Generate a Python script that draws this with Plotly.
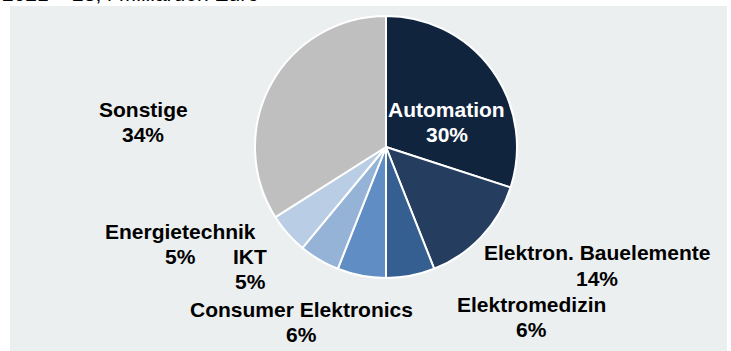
import plotly.graph_objects as go

W, H = 731, 351

categories = ["Automation", "Elektron. Bauelemente", "Elektromedizin",
              "Consumer Elektronics", "IKT", "Energietechnik", "Sonstige"]
shares = [30, 14, 6, 6, 5, 5, 34]
colors = ["#10243E", "#253E5F", "#345F90", "#5F8DC4", "#95B3D7", "#B9CDE5", "#BFBFBF"]
title_text = "2021 – 23,4 Milliarden Euro"

# label positions (pixels): x centre, y centre of first line
label_pos = [(447, 109), (597, 253), (531, 304), (301, 309), (250, 256), (180, 231), (143, 109)]
label_colors = ["white", "black", "black", "black", "black", "black", "black"]
line_gap = 25

cx, cy, r = 386, 147, 131
FONT = "Liberation Sans, Arial"
FS = 21

fig = go.Figure()
fig.add_trace(go.Pie(
    labels=categories, values=shares, sort=False, direction="clockwise", rotation=0,
    marker=dict(colors=colors, line=dict(color="white", width=2)),
    textinfo="none", hoverinfo="label+percent", showlegend=False,
    domain=dict(x=[(cx - r) / W, (cx + r) / W], y=[1 - (cy + r) / H, 1 - (cy - r) / H]),
))

anns = []
for cat, val, (px, py), col in zip(categories, shares, label_pos, label_colors):
    for i, line in enumerate([cat, f"{val}%"]):
        anns.append(dict(
            text=f"<b>{line}</b>", x=px / W, y=1 - (py + i * line_gap) / H,
            xref="paper", yref="paper", xanchor="center", yanchor="middle",
            showarrow=False, align="center",
            font=dict(family=FONT, size=FS, color=col)))
anns.append(dict(
    text=title_text, x=0, y=1 + 7 / H, xref="paper", yref="paper", xanchor="left",
    yanchor="middle", showarrow=False,
    font=dict(family=FONT, size=FS, color="black")))

fig.update_layout(
    width=W, height=H, margin=dict(l=0, r=0, t=0, b=0),
    paper_bgcolor="white", plot_bgcolor="white",
    shapes=[dict(type="rect", xref="paper", yref="paper", x0=10 / W, x1=727 / W,
                 y0=0, y1=1 - 6 / H, fillcolor="#ECEFF0", line=dict(width=0), layer="below")],
    annotations=anns,
)
fig.write_html("out.html")
